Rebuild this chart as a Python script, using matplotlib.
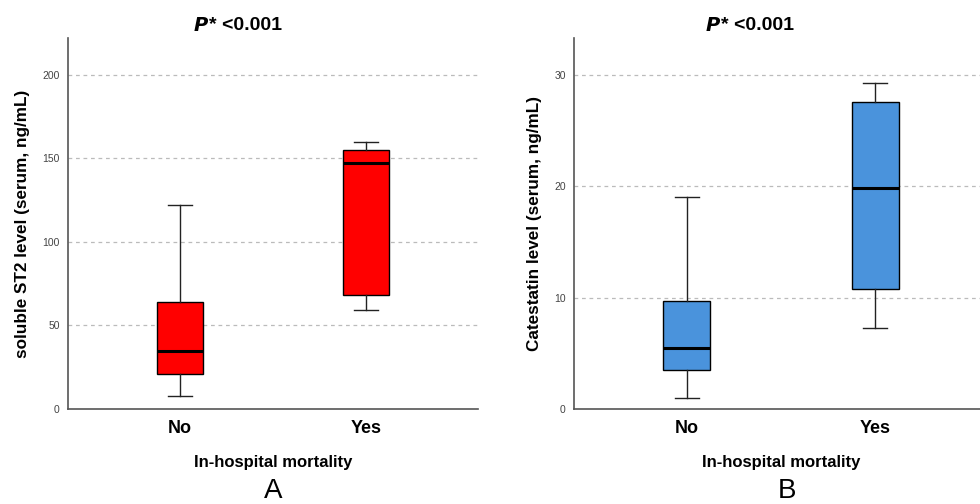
import matplotlib
matplotlib.use("Agg")
import matplotlib.pyplot as plt

plt.rcParams['font.family'] = ['Liberation Sans', 'DejaVu Sans']

groups = ['No', 'Yes']

# panel A: soluble ST2 (ng/mL)
st2_whislo = [8, 59]
st2_q1 = [21, 68.5]
st2_med = [35, 147]
st2_q3 = [64, 155]
st2_whishi = [122, 160]

# panel B: catestatin (ng/mL)
cst_whislo = [1.0, 7.3]
cst_q1 = [3.5, 10.8]
cst_med = [5.5, 19.8]
cst_q3 = [9.7, 27.6]
cst_whishi = [19.0, 29.3]


def make_stats(lo, q1, med, q3, hi):
    return [dict(whislo=lo[i], q1=q1[i], med=med[i], q3=q3[i], whishi=hi[i], fliers=[])
            for i in range(len(lo))]


def draw_panel(ax, stats, color, ylim, yticks, ylabel):
    ax.bxp(stats, positions=[0, 1], widths=0.25, patch_artist=True, showfliers=False,
           boxprops=dict(facecolor=color, edgecolor='black', linewidth=1.0),
           medianprops=dict(color='black', linewidth=2.2),
           whiskerprops=dict(color='#222222', linewidth=1.0),
           capprops=dict(color='#222222', linewidth=1.0),
           capwidths=0.13)
    ax.set_xlim(-0.6, 1.6)
    ax.set_ylim(*ylim)
    ax.set_yticks(yticks)
    for t in yticks[1:]:
        ax.axhline(t, color='#bbbbbb', linestyle=(0, (3, 3)), linewidth=0.9, zorder=0)
    ax.set_xticks([0, 1])
    ax.set_xticklabels(groups, fontsize=13, fontweight='bold')
    ax.tick_params(axis='x', length=0, pad=8)
    ax.tick_params(axis='y', length=0, pad=6, labelsize=7.5, labelcolor='#444444')
    for s in ['top', 'right']:
        ax.spines[s].set_visible(False)
    for s in ['left', 'bottom']:
        ax.spines[s].set_color('#555555')
        ax.spines[s].set_linewidth(1.2)
    ax.set_xlabel('In-hospital mortality', fontsize=12, fontweight='bold', labelpad=13)
    ax.set_ylabel(ylabel, fontsize=12.3, fontweight='bold', labelpad=9)


fig = plt.figure(figsize=(9.8, 5.04), dpi=100)
ax1 = fig.add_axes([68 / 980, 95 / 504, 410 / 980, 371 / 504])
ax2 = fig.add_axes([574 / 980, 95 / 504, 414 / 980, 371 / 504])

draw_panel(ax1, make_stats(st2_whislo, st2_q1, st2_med, st2_q3, st2_whishi),
           '#ff0000', (0, 222), [0, 50, 100, 150, 200],
           'soluble ST2 level (serum, ng/mL)')
draw_panel(ax2, make_stats(cst_whislo, cst_q1, cst_med, cst_q3, cst_whishi),
           '#4a93dc', (0, 33.3), [0, 10, 20, 30],
           'Catestatin level (serum, ng/mL)')

for xc in [209, 721]:
    fig.text(xc / 980, 1 - 26 / 504, r'$\boldsymbol{P}$', fontsize=14, ha='right', va='center')
    fig.text(xc / 980, 1 - 26 / 504, '* <0.001', fontsize=14, fontweight='bold',
             ha='left', va='center')

fig.text(273 / 980, 0.5 / 504, 'A', fontsize=20, ha='center', va='bottom')
fig.text(787 / 980, 0.5 / 504, 'B', fontsize=20, ha='center', va='bottom')

fig.savefig('out.png', dpi=100)
